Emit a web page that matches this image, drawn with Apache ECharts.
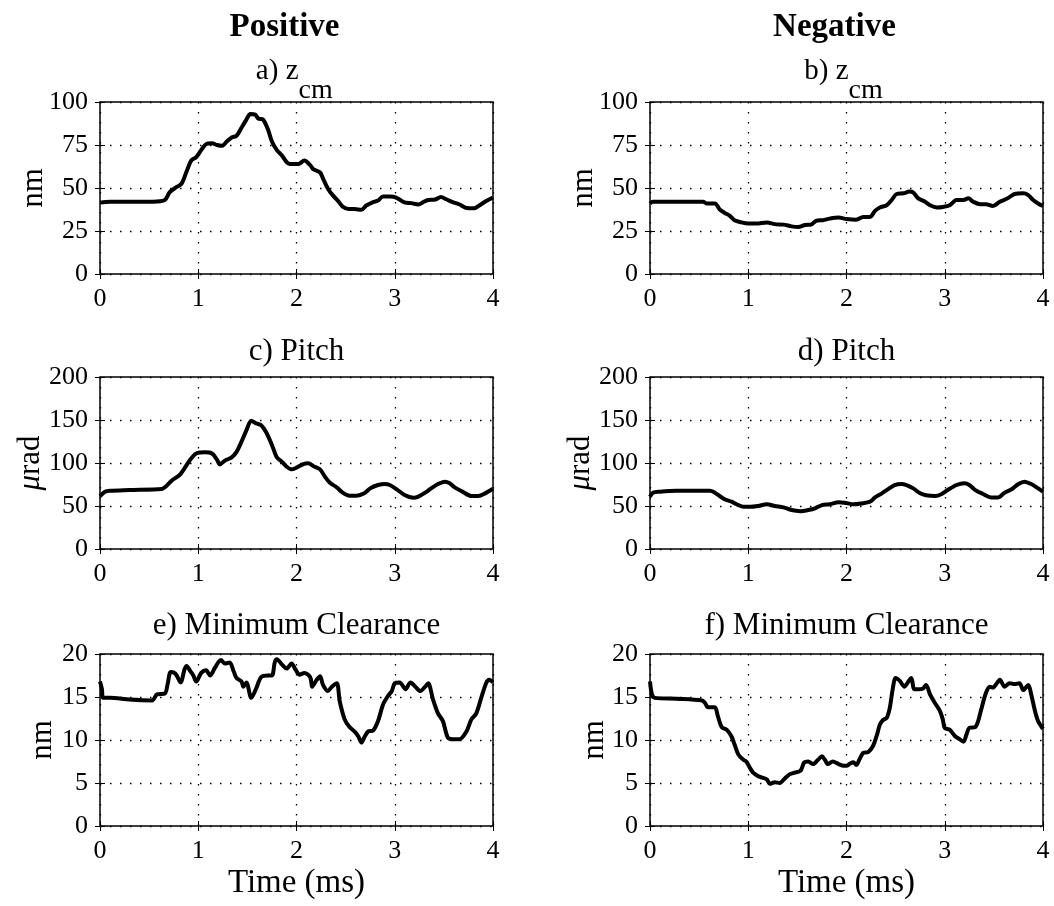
<!DOCTYPE html>
<html>
<head>
<meta charset="utf-8">
<script src="https://cdn.jsdelivr.net/npm/echarts@6/dist/echarts.min.js"></script>
<style>
html,body{margin:0;padding:0;background:#fff;}
#chart{width:1054px;height:906px;}
</style>
</head>
<body>
<div id="chart"></div>
<script>
// ---- data: [time (ms), value] ----
const zcmPositive = [[0,41.5],[0.1,42],[0.3,42],[0.54,42],[0.66,43],[0.71,47.6],[0.78,50.6],[0.83,52.5],[0.88,59.4],[0.93,66],[0.98,68],[1.03,72],[1.08,75.5],[1.14,76],[1.19,75],[1.24,74.5],[1.29,77],[1.34,79.4],[1.39,80.4],[1.44,85],[1.49,89.8],[1.53,93],[1.58,92.7],[1.61,90.4],[1.66,89.8],[1.71,84],[1.75,77],[1.80,72],[1.85,69],[1.90,65],[1.93,64],[2.02,64],[2.08,66],[2.14,63.3],[2.17,61],[2.24,59],[2.27,55.5],[2.32,49.6],[2.37,45.7],[2.42,42.7],[2.47,39.2],[2.53,37.8],[2.59,37.8],[2.66,37.3],[2.71,39.8],[2.78,41.8],[2.83,42.7],[2.88,45],[2.95,45],[3.02,44.3],[3.10,41.6],[3.17,41.2],[3.24,40.4],[3.29,41.8],[3.34,43],[3.41,43.3],[3.47,44.7],[3.53,43.3],[3.59,41.8],[3.66,40.4],[3.73,38.4],[3.81,38.2],[3.86,39.8],[3.93,42.4],[4.0,44.5]];
const zcmNegative = [[0,41],[0.03,42],[0.54,42],[0.58,41],[0.66,41],[0.71,37.5],[0.76,35.5],[0.81,34],[0.86,31.3],[0.93,30],[1.0,29.3],[1.08,29.3],[1.19,30],[1.27,29],[1.36,28.7],[1.44,27.7],[1.51,27.3],[1.58,28.5],[1.64,28.7],[1.69,30.9],[1.76,31.3],[1.83,32.2],[1.92,32.8],[2.0,32],[2.10,31.6],[2.17,33.2],[2.24,33.2],[2.29,36.7],[2.34,38.7],[2.41,40],[2.46,43],[2.51,46.5],[2.58,46.9],[2.64,47.9],[2.68,47.3],[2.73,44],[2.80,42],[2.85,40],[2.92,38.7],[2.98,39],[3.05,40],[3.12,43],[3.19,43],[3.24,44],[3.29,42],[3.36,40.6],[3.42,40.6],[3.49,39.5],[3.56,42],[3.64,44],[3.71,46.5],[3.80,46.9],[3.85,45.9],[3.90,43],[3.95,41],[4.0,39.5]];
const pitchPositive = [[0,61.6],[0.05,66.7],[0.1,67.8],[0.3,68.6],[0.63,69.8],[0.66,71.7],[0.73,79.5],[0.81,86],[0.86,93.8],[0.92,104],[0.98,111],[1.07,112.4],[1.14,111],[1.19,104],[1.22,98.4],[1.27,102.7],[1.34,106.6],[1.39,113],[1.44,124.8],[1.49,138],[1.54,149],[1.59,146],[1.64,144],[1.69,136],[1.75,121],[1.80,106.6],[1.85,101.6],[1.90,95.7],[1.95,92.6],[2.0,94.6],[2.07,98.8],[2.12,99.6],[2.17,96.5],[2.24,92.6],[2.29,84],[2.34,77],[2.41,71.7],[2.47,65.5],[2.54,62],[2.61,62],[2.69,64.7],[2.75,70.5],[2.83,74.4],[2.90,75.6],[2.95,74.4],[3.02,69.4],[3.10,62.8],[3.19,59.7],[3.24,60.9],[3.31,65.5],[3.37,70.5],[3.44,75.6],[3.51,78.3],[3.56,76.4],[3.61,71.7],[3.69,66.7],[3.78,61.6],[3.85,61.6],[3.92,64.7],[4.0,70]];
const pitchNegative = [[0,60.9],[0.03,65.5],[0.1,66.7],[0.27,67.8],[0.61,67.8],[0.66,65.5],[0.71,61.6],[0.76,57.8],[0.83,55],[0.90,51],[0.95,49],[1.02,49],[1.10,50],[1.19,52],[1.27,50],[1.36,48.4],[1.44,45.3],[1.53,44],[1.61,45.3],[1.68,47.3],[1.75,51],[1.83,52],[1.92,54.3],[1.98,53.9],[2.07,52],[2.15,53],[2.24,55],[2.29,60],[2.36,64.7],[2.42,69.4],[2.49,74.4],[2.56,75.6],[2.61,74.4],[2.68,70.5],[2.75,64.7],[2.81,62.4],[2.90,61.6],[2.97,64],[3.03,68.6],[3.12,74.4],[3.20,76.4],[3.25,74.4],[3.32,67.8],[3.39,64],[3.47,60],[3.54,60],[3.61,65.5],[3.68,69.4],[3.75,75.6],[3.81,78.3],[3.88,75.6],[3.95,70.5],[4.0,66.7]];
const clearancePositive = [[0,16.8],[0.02,15.9],[0.03,14.9],[0.1,14.9],[0.3,14.7],[0.53,14.6],[0.58,15.3],[0.66,15.4],[0.69,16.6],[0.72,17.9],[0.77,17.7],[0.82,16.7],[0.86,18.2],[0.88,18.6],[0.92,18.0],[0.95,17.5],[0.98,16.8],[1.03,17.8],[1.08,18.1],[1.12,17.5],[1.17,18.4],[1.23,19.3],[1.27,18.9],[1.32,19.0],[1.36,18.0],[1.39,17.2],[1.44,16.8],[1.46,16.2],[1.49,16.7],[1.54,14.9],[1.59,16.0],[1.64,17.3],[1.71,17.5],[1.75,17.5],[1.78,19.1],[1.80,19.4],[1.85,18.8],[1.90,18.3],[1.95,18.9],[1.99,18.2],[2.03,17.6],[2.08,17.8],[2.14,17.3],[2.16,16.2],[2.20,16.9],[2.24,17.4],[2.27,16.4],[2.32,15.7],[2.36,16.2],[2.41,16.6],[2.44,14.5],[2.49,12.4],[2.54,11.5],[2.59,11.0],[2.63,10.4],[2.66,9.7],[2.69,10.3],[2.73,11.0],[2.78,11.1],[2.83,12.2],[2.88,14.1],[2.93,15.1],[2.97,15.7],[3.0,16.6],[3.05,16.7],[3.11,15.9],[3.16,16.7],[3.21,16.2],[3.26,15.7],[3.31,16.2],[3.34,16.6],[3.39,14.7],[3.44,13.1],[3.49,12.2],[3.54,10.3],[3.59,10.1],[3.66,10.1],[3.73,11.0],[3.78,12.4],[3.83,13.1],[3.88,14.9],[3.93,16.6],[3.96,17.0],[4.0,16.7]];
const clearanceNegative = [[0,16.8],[0.02,15.3],[0.05,14.9],[0.27,14.8],[0.53,14.6],[0.56,14.3],[0.59,13.8],[0.66,13.8],[0.69,12.8],[0.73,11.5],[0.78,11.2],[0.83,10.4],[0.86,9.5],[0.90,8.3],[0.95,7.7],[0.98,7.5],[1.02,6.7],[1.05,6.2],[1.10,5.8],[1.15,5.6],[1.19,5.4],[1.22,4.9],[1.27,5.1],[1.32,5.0],[1.37,5.5],[1.42,6.0],[1.47,6.2],[1.53,6.4],[1.57,7.4],[1.61,7.5],[1.66,7.2],[1.71,7.7],[1.75,8.1],[1.78,7.7],[1.81,7.2],[1.86,7.5],[1.92,7.2],[1.97,7.0],[2.0,7.0],[2.03,7.2],[2.07,7.4],[2.10,7.1],[2.13,7.7],[2.17,8.5],[2.22,8.6],[2.27,9.3],[2.31,10.6],[2.34,11.8],[2.37,12.3],[2.41,12.6],[2.44,13.7],[2.47,15.9],[2.50,17.2],[2.54,16.9],[2.59,16.2],[2.63,16.8],[2.66,17.2],[2.69,15.9],[2.73,15.9],[2.78,16.0],[2.81,16.4],[2.85,15.3],[2.90,14.3],[2.95,13.4],[2.98,12.4],[3.0,11.4],[3.05,11.2],[3.10,10.5],[3.15,10.1],[3.19,9.8],[3.22,10.6],[3.25,11.4],[3.31,11.5],[3.34,12.2],[3.37,13.5],[3.42,15.5],[3.46,16.2],[3.49,16.1],[3.53,16.6],[3.56,17.0],[3.61,16.2],[3.66,16.6],[3.71,16.5],[3.76,16.6],[3.80,15.8],[3.85,16.4],[3.88,15.3],[3.92,13.3],[3.95,12.2],[4.0,11.3]];

const xTicks = [0, 1, 2, 3, 4];
const yRanges = [[0, 100, 25], [0, 200, 50], [0, 20, 5]];
const columnTitles = ['Positive', 'Negative'];
const panelTitles = [['a) z', 'b) z'], ['c) Pitch', 'd) Pitch'], ['e) Minimum Clearance', 'f) Minimum Clearance']];
const panelSeries = [[zcmPositive, zcmNegative], [pitchPositive, pitchNegative], [clearancePositive, clearanceNegative]];

// ---- layout ----
const FONT = 'Liberation Serif';
const cols = [[100, 493], [650, 1043]];
const rows = [[102, 274], [377, 549], [654, 826]];

const grids = [], xAxes = [], yAxes = [], series = [], graphics = [];
let gi = 0;
for (let r = 0; r < 3; r++) {
  for (let c = 0; c < 2; c++) {
    const [x0, x1] = cols[c], [y0, y1] = rows[r];
    grids.push({left: x0, top: y0, width: x1 - x0, height: y1 - y0, show: true,
      borderColor: '#000', borderWidth: 1.5, backgroundColor: '#fff', containLabel: false});
    const [ymin, ymax, yint] = yRanges[r];
    xAxes.push({type: 'value', gridIndex: gi, min: xTicks[0], max: xTicks[xTicks.length - 1], interval: 1,
      axisLine: {show: false}, axisTick: {show: true, inside: true, length: 5, lineStyle: {color: '#000', width: 1}},
      axisLabel: {color: '#000', fontFamily: FONT, fontSize: 26, margin: 12},
      splitLine: {show: true, lineStyle: {color: '#000', width: 1.3, type: [1.5, 8.5]}}});
    xAxes.push({type: 'value', gridIndex: gi, position: 'top', min: xTicks[0], max: xTicks[xTicks.length - 1], interval: 1,
      axisLine: {show: false}, axisTick: {show: true, inside: true, length: 5, lineStyle: {color: '#000', width: 1}},
      axisLabel: {show: false}, splitLine: {show: false}});
    yAxes.push({type: 'value', gridIndex: gi, min: ymin, max: ymax, interval: yint,
      axisLine: {show: false}, axisTick: {show: true, inside: true, length: 5, lineStyle: {color: '#000', width: 1}},
      axisLabel: {color: '#000', fontFamily: FONT, fontSize: 26, margin: 12},
      splitLine: {show: true, lineStyle: {color: '#000', width: 1.3, type: [1.5, 8.5]}}});
    yAxes.push({type: 'value', gridIndex: gi, position: 'right', min: ymin, max: ymax, interval: yint,
      axisLine: {show: false}, axisTick: {show: true, inside: true, length: 5, lineStyle: {color: '#000', width: 1}},
      axisLabel: {show: false}, splitLine: {show: false}});
    series.push({type: 'line', xAxisIndex: gi * 2, yAxisIndex: gi * 2, data: panelSeries[r][c],
      showSymbol: false, symbol: 'none', smooth: 0.3, lineStyle: {color: '#000', width: 4}, z: 3, silent: true, animation: false});
    // panel title
    const cx = (x0 + x1) / 2;
    const tYs = [71, 352, 626];
    if (r === 0) {
      graphics.push({type: 'text', x: cx + 2, y: tYs[r], style: {text: panelTitles[r][c], font: '29px "' + FONT + '"', fill: '#000', textAlign: 'right', textVerticalAlign: 'middle'}});
      graphics.push({type: 'text', x: cx + 2, y: tYs[r] + 20, style: {text: 'cm', font: '28px "' + FONT + '"', fill: '#000', textAlign: 'left', textVerticalAlign: 'middle'}});
    } else {
      graphics.push({type: 'text', x: cx, y: tYs[r], style: {text: panelTitles[r][c], font: '31px "' + FONT + '"', fill: '#000', textAlign: 'center', textVerticalAlign: 'middle'}});
    }
    // y axis name
    const yLabX = [[34, 584], [31, 581], [43, 595]][r][c];
    const yc = (y0 + y1) / 2;
    if (r === 1) {
      graphics.push({type: 'text', x: yLabX, y: yc, rotation: Math.PI / 2,
        style: {text: '{i|μ}rad', fill: '#000', font: '31px "' + FONT + '"', textAlign: 'center', textVerticalAlign: 'middle',
          rich: {i: {fontStyle: 'italic', fontFamily: FONT, fontSize: 31}}}});
    } else {
      graphics.push({type: 'text', x: yLabX, y: yc, rotation: Math.PI / 2,
        style: {text: 'nm', fill: '#000', font: '31px "' + FONT + '"', textAlign: 'center', textVerticalAlign: 'middle'}});
    }
    if (r === 2) {
      graphics.push({type: 'text', x: cx, y: 883, style: {text: 'Time (ms)', font: '33px "' + FONT + '"', fill: '#000', textAlign: 'center', textVerticalAlign: 'middle'}});
    }
    if (r === 0) {
      graphics.push({type: 'text', x: cx - 12, y: 27, style: {text: columnTitles[c], font: 'bold 33px "' + FONT + '"', fill: '#000', textAlign: 'center', textVerticalAlign: 'middle'}});
    }
    gi++;
  }
}

const chart = echarts.init(document.getElementById('chart'), null, {renderer: 'canvas'});
chart.setOption({
  animation: false,
  backgroundColor: '#fff',
  grid: grids, xAxis: xAxes, yAxis: yAxes, series: series,
  graphic: {elements: graphics}
});
</script>
</body>
</html>
